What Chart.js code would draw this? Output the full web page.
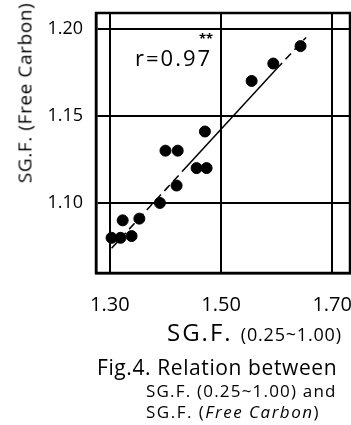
<!DOCTYPE html>
<html>
<head>
<meta charset="utf-8">
<script src="https://cdn.jsdelivr.net/npm/chart.js@4/dist/chart.umd.min.js"></script>
<style>
  html, body { margin: 0; padding: 0; background: #fff; }
  #wrap { position: relative; width: 351px; height: 425px; overflow: hidden; font-family: 'Open Sans', sans-serif; color: #000; }
  canvas { position: absolute; left: 0; top: 0; }
  .lbl { position: absolute; white-space: nowrap; line-height: 1; color: #000; }
  #ytitle { left: 25px; top: 93px; font-size: 19px; letter-spacing: 0.6px; transform: translate(-50%, -50%) rotate(-90deg); }
  #xtitle { left: 167px; top: 320px; font-size: 24px; letter-spacing: 2px; }
  #xtitle small { font-size: 18px; letter-spacing: 0.8px; }
  #rval { left: 135px; top: 46px; font-size: 22px; letter-spacing: 2px; }
  #stars { left: 199px; top: 32px; font-size: 13px; font-weight: bold; }
  #cap1 { left: 97px; top: 357px; font-size: 21px; letter-spacing: 0.6px; }
  #cap2 { left: 146px; top: 382px; font-size: 17px; letter-spacing: 1.2px; }
  #cap3 { left: 146px; top: 403px; font-size: 17px; letter-spacing: 1.5px; }
</style>
</head>
<body>
<div id="wrap">
  <canvas id="c" width="351" height="425"></canvas>
  <div class="lbl" id="ytitle">SG.F. (Free Carbon)</div>
  <div class="lbl" id="xtitle">SG.F. <small>(0.25~1.00)</small></div>
  <div class="lbl" id="rval">r=0.97</div>
  <div class="lbl" id="stars">**</div>
  <div class="lbl" id="cap1">Fig.4. Relation between</div>
  <div class="lbl" id="cap2">SG.F. (0.25~1.00) and</div>
  <div class="lbl" id="cap3">SG.F. (<i>Free Carbon</i>)</div>
</div>
<script>
// measured points
const xVals = [1.303, 1.319, 1.323, 1.339, 1.353, 1.390, 1.420, 1.400, 1.422, 1.456, 1.474, 1.471, 1.555, 1.594, 1.643];
const yVals = [1.080, 1.080, 1.090, 1.081, 1.091, 1.100, 1.110, 1.130, 1.130, 1.120, 1.120, 1.141, 1.170, 1.180, 1.190];

// regression line (dashed ends, solid middle)
const fitX = [1.303, 1.43, 1.60, 1.653];
const fitY = [1.074, 1.118, 1.177, 1.195];

const xTicks = [1.30, 1.50, 1.70];
const yTicks = [1.10, 1.15, 1.20];

const frame = {
  id: 'frame',
  afterDraw(chart) {
    const { ctx, chartArea: a } = chart;
    ctx.save();
    ctx.strokeStyle = '#000';
    ctx.lineWidth = 2.5;
    ctx.strokeRect(a.left, a.top, a.right - a.left, a.bottom - a.top);
    ctx.restore();
  }
};

new Chart(document.getElementById('c'), {
  type: 'scatter',
  data: {
    datasets: [
      {
        data: xVals.map((x, i) => ({ x, y: yVals[i] })),
        backgroundColor: '#000',
        borderColor: '#000',
        pointRadius: 5.5,
        pointHoverRadius: 5.5
      },
      {
        type: 'line',
        data: fitX.map((x, i) => ({ x, y: fitY[i] })),
        borderColor: '#000',
        borderWidth: 1.5,
        pointRadius: 0,
        fill: false,
        segment: { borderDash: ctx => ctx.p0DataIndex === 1 ? [] : [8, 5] }
      }
    ]
  },
  options: {
    responsive: false,
    animation: false,
    layout: { autoPadding: false, padding: { top: 13, right: 1, left: 0, bottom: 0 } },
    plugins: { legend: { display: false }, tooltip: { enabled: false } },
    scales: {
      x: {
        type: 'linear',
        min: 1.275,
        max: 1.732,
        afterBuildTicks: s => { s.ticks = xTicks.map(v => ({ value: v })); },
        afterFit: s => { s.height = 152; s.paddingLeft = 0; s.paddingRight = 0; },
        grid: { color: '#000', lineWidth: 2, drawTicks: false },
        border: { color: '#000', width: 2.5 },
        ticks: { padding: 20, color: '#000', font: { family: 'Open Sans', size: 20 }, callback: v => v.toFixed(2) }
      },
      y: {
        type: 'linear',
        min: 1.0598,
        max: 1.209,
        afterBuildTicks: s => { s.ticks = yTicks.map(v => ({ value: v })); },
        afterFit: s => { s.width = 96; s.paddingTop = 0; s.paddingBottom = 0; },
        grid: { color: '#000', lineWidth: 2, drawTicks: false },
        border: { color: '#000', width: 2.5 },
        ticks: { padding: 13, color: '#000', font: { family: 'Open Sans', size: 18 }, callback: v => v.toFixed(2) }
      }
    }
  },
  plugins: [frame]
});
</script>
</body>
</html>
